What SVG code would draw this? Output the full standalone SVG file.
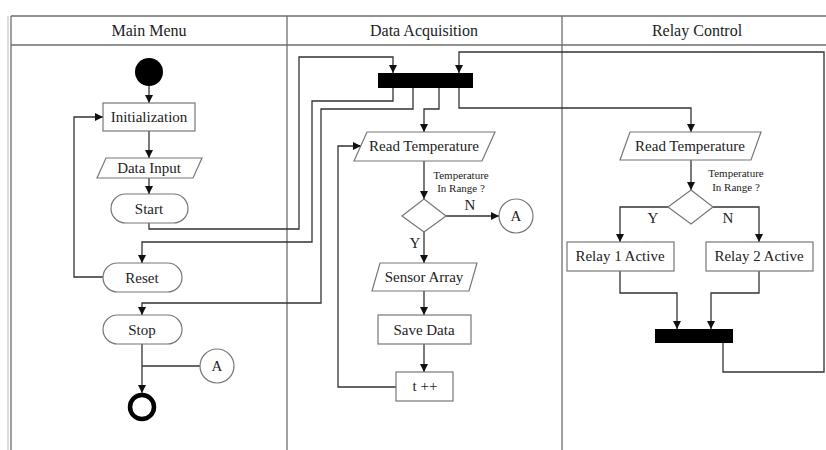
<svg xmlns="http://www.w3.org/2000/svg" width="826" height="450" viewBox="0 0 826 450">
<defs>
<marker id="ah" viewBox="0 0 10 10" refX="10" refY="5" markerWidth="8" markerHeight="8" markerUnits="userSpaceOnUse" orient="auto">
<path d="M0,0 L10,5 L0,10 z" fill="#111"/>
</marker>
<style>
.lane{fill:none;stroke:#6e6e6e;stroke-width:1.3}
.hd{font-family:"Liberation Serif",serif;font-size:16px;fill:#222;text-anchor:middle}
.nd{fill:#fff;stroke:#777;stroke-width:1.2}
.tx{font-family:"Liberation Serif",serif;font-size:15px;fill:#222;text-anchor:middle}
.sm{font-family:"Liberation Serif",serif;font-size:11px;fill:#222;text-anchor:middle}
.cn{fill:none;stroke:#333;stroke-width:1.3}
.ar{marker-end:url(#ah)}
</style>
</defs>
<rect width="826" height="450" fill="#fff"/>
<g id="frame">
<line x1="8" y1="16" x2="8" y2="450" stroke="#bbb" stroke-width="1"/>
<line class="lane" x1="11" y1="16" x2="11" y2="450"/>
<line class="lane" x1="11" y1="16" x2="826" y2="16"/>
<line class="lane" x1="11" y1="45" x2="826" y2="45"/>
<line class="lane" x1="287" y1="16" x2="287" y2="450"/>
<line class="lane" x1="562" y1="16" x2="562" y2="450"/>
<text class="hd" x="149" y="36">Main Menu</text>
<text class="hd" x="424" y="36">Data Acquisition</text>
<text class="hd" x="697" y="36">Relay Control</text>
</g>
<g id="connectors">
<path class="cn ar" d="M149,86 V103"/>
<path class="cn ar" d="M149,131 V158"/>
<path class="cn ar" d="M149,178 V194"/>
<path class="cn ar" d="M149,223 V229 H299 V57 H393 V73"/>
<path class="cn ar" d="M393,88 V101 H312 V242 H142 V263"/>
<path class="cn ar" d="M413,88 V109 H321 V303 H142 V315"/>
<path class="cn ar" d="M439,88 V109 H424 V132"/>
<path class="cn ar" d="M459,88 V108 H691 V132"/>
<path class="cn ar" d="M103,277 H74 V117 H103"/>
<path class="cn ar" d="M142,344 V393"/>
<path class="cn" d="M142,366 H200"/>
<path class="cn ar" d="M424,161 V199"/>
<path class="cn ar" d="M446,216 H499"/>
<path class="cn ar" d="M424,232 V263"/>
<path class="cn ar" d="M424,291 V315"/>
<path class="cn ar" d="M424,344 V372"/>
<path class="cn ar" d="M396,387 H338 V146 H361"/>
<path class="cn ar" d="M691,160 V190"/>
<path class="cn ar" d="M668,207 H620 V242"/>
<path class="cn ar" d="M713,207 H759 V242"/>
<path class="cn ar" d="M620,271 V293 H677 V329"/>
<path class="cn ar" d="M759,271 V293 H711 V329"/>
<path class="cn ar" d="M723,343 V372 H824 V52 H459 V73"/>
</g>
<g id="start"><circle cx="149" cy="72" r="14" fill="#000"/></g>
<g id="init"><rect class="nd" x="103" y="103" width="92" height="28"/><text class="tx" x="149" y="122">Initialization</text></g>
<g id="datainput"><polygon class="nd" points="106,158 202,158 193,178 97,178"/><text class="tx" x="149" y="173">Data Input</text></g>
<g id="startbtn"><rect class="nd" x="111" y="194" width="77" height="29" rx="14.5"/><text class="tx" x="149" y="214">Start</text></g>
<g id="reset"><rect class="nd" x="103" y="263" width="79" height="29" rx="14.5"/><text class="tx" x="142" y="283">Reset</text></g>
<g id="stop"><rect class="nd" x="103" y="315" width="79" height="29" rx="14.5"/><text class="tx" x="142" y="335">Stop</text></g>
<g id="connA1"><circle class="nd" cx="217" cy="366" r="17"/><text class="tx" x="217" y="371">A</text></g>
<g id="end"><circle cx="142" cy="407" r="12" fill="#fff" stroke="#000" stroke-width="4.5"/></g>
<g id="fork1"><rect x="378" y="73" width="95" height="15" fill="#000"/></g>
<g id="readtemp1"><polygon class="nd" points="367,132 495,132 482,161 354,161"/><text class="tx" x="424" y="151">Read Temperature</text></g>
<g id="dec1"><polygon class="nd" points="424,199 446,216 424,232 402,216"/>
<text class="sm" x="461" y="179">Temperature</text><text class="sm" x="461" y="192">In Range ?</text>
<text class="tx" x="470" y="210">N</text><text class="tx" x="415" y="248">Y</text></g>
<g id="connA2"><circle class="nd" cx="516" cy="216" r="17"/><text class="tx" x="516" y="221">A</text></g>
<g id="sensor"><polygon class="nd" points="380,263 477,263 469,291 372,291"/><text class="tx" x="424" y="282">Sensor Array</text></g>
<g id="save"><rect class="nd" x="378" y="315" width="93" height="29"/><text class="tx" x="424" y="335">Save Data</text></g>
<g id="tinc"><rect class="nd" x="396" y="372" width="57" height="29"/><text class="tx" x="425" y="391">t ++</text></g>
<g id="readtemp2"><polygon class="nd" points="630,132 761,132 751,160 620,160"/><text class="tx" x="690" y="151">Read Temperature</text></g>
<g id="dec2"><polygon class="nd" points="691,190 713,207 691,224 668,207"/>
<text class="sm" x="736" y="177">Temperature</text><text class="sm" x="736" y="191">In Range ?</text>
<text class="tx" x="653" y="223">Y</text><text class="tx" x="728" y="223">N</text></g>
<g id="relay1"><rect class="nd" x="567" y="242" width="107" height="29"/><text class="tx" x="620" y="261">Relay 1 Active</text></g>
<g id="relay2"><rect class="nd" x="706" y="242" width="107" height="29"/><text class="tx" x="759" y="261">Relay 2 Active</text></g>
<g id="join2"><rect x="655" y="329" width="78" height="14" fill="#000"/></g>
</svg>
